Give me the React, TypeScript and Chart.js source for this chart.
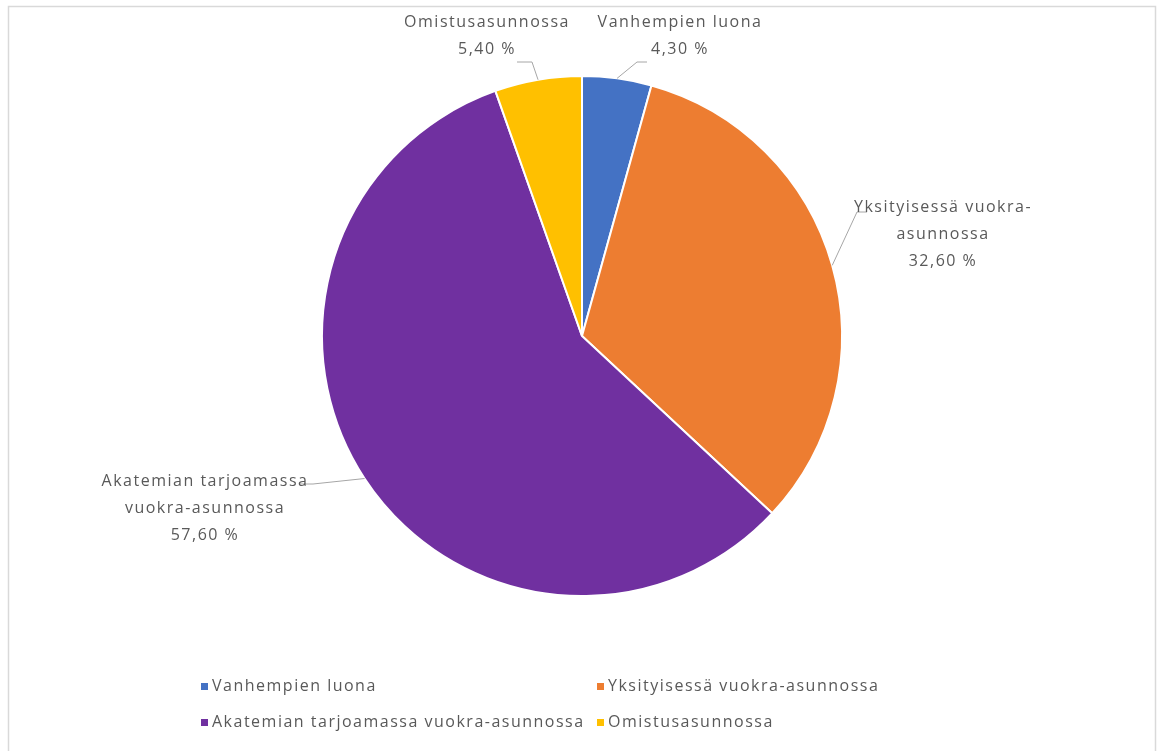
import React, { useEffect, useRef } from "react";
import { Chart, registerables } from "chart.js";

Chart.register(...registerables);

const categories = [
  "Vanhempien luona",
  "Yksityisessä vuokra-asunnossa",
  "Akatemian tarjoamassa vuokra-asunnossa",
  "Omistusasunnossa",
];
const shares = [4.3, 32.6, 57.6, 5.4];
const valueLabels = ["4,30 %", "32,60 %", "57,60 %", "5,40 %"];
const labelLines = [
  ["Vanhempien luona"],
  ["Yksityisessä vuokra-", "asunnossa"],
  ["Akatemian tarjoamassa", "vuokra-asunnossa"],
  ["Omistusasunnossa"],
];
const colors = ["#4472C4", "#ED7D31", "#7030A0", "#FFC000"];

// layout for outside labels: text centre x, first line y, elbow point, line end x
const labelLayout = [
  { cx: 680, y0: 22, ex: 637, ey: 62, hx: 647 },
  { cx: 943, y0: 207, ex: 857, ey: 212, hx: 867 },
  { cx: 205, y0: 481, ex: 313, ey: 484, hx: 300 },
  { cx: 487, y0: 22, ex: 532, ey: 62, hx: 517 },
];
const legendLayout = [
  { x: 201, y: 686 },
  { x: 597, y: 686 },
  { x: 201, y: 722 },
  { x: 597, y: 722 },
];

const FONT = "16px 'Open Sans'";
const TEXT = "#595959";

const decor = {
  id: "decor",
  afterDraw(chart: any) {
    const ctx = chart.ctx;
    ctx.save();
    // border
    ctx.strokeStyle = "#d9d9d9";
    ctx.lineWidth = 1.5;
    ctx.strokeRect(8.5, 6.5, 1147, 800);
    const meta = chart.getDatasetMeta(0);
    ctx.font = FONT;
    (ctx as any).letterSpacing = "1.5px";
    ctx.fillStyle = TEXT;
    ctx.textAlign = "center";
    ctx.textBaseline = "middle";
    meta.data.forEach((arc: any, i: number) => {
      const p = arc.getProps(["x", "y", "startAngle", "endAngle", "outerRadius"], true);
      const mid = (p.startAngle + p.endAngle) / 2;
      const sx = p.x + Math.cos(mid) * p.outerRadius;
      const sy = p.y + Math.sin(mid) * p.outerRadius;
      const L = labelLayout[i];
      ctx.strokeStyle = "#a6a6a6";
      ctx.lineWidth = 1;
      ctx.beginPath();
      ctx.moveTo(sx, sy);
      ctx.lineTo(L.ex, L.ey);
      ctx.lineTo(L.hx, L.ey);
      ctx.stroke();
      const lines = [...labelLines[i], valueLabels[i]];
      lines.forEach((t, k) => {
        ctx.fillText(t, L.cx, L.y0 + k * 27);
      });
    });
    // legend
    ctx.textAlign = "left";
    categories.forEach((c, i) => {
      const g = legendLayout[i];
      ctx.fillStyle = colors[i];
      ctx.fillRect(g.x, g.y - 3, 7, 7);
      ctx.fillStyle = TEXT;
      ctx.fillText(c, g.x + 11, g.y);
    });
    ctx.restore();
  },
};

export default function App() {
  const ref = useRef<HTMLCanvasElement>(null);
  useEffect(() => {
    document.body.style.margin = "0";
    const chart = new Chart(ref.current!, {
      type: "pie",
      data: {
        labels: categories,
        datasets: [
          {
            data: shares,
            backgroundColor: colors,
            borderColor: "#ffffff",
            borderWidth: 2,
          },
        ],
      },
      options: {
        animation: false,
        responsive: false,
        layout: { padding: { top: 75, bottom: 154, left: 3, right: 0 } },
        plugins: {
          legend: { display: false },
          tooltip: { enabled: false },
        },
      },
      plugins: [decor],
    });
    return () => chart.destroy();
  }, []);
  return (
    <div style={{ width: 1161, height: 751, background: "#fff" }}>
      <canvas ref={ref} width={1161} height={751} />
    </div>
  );
}
